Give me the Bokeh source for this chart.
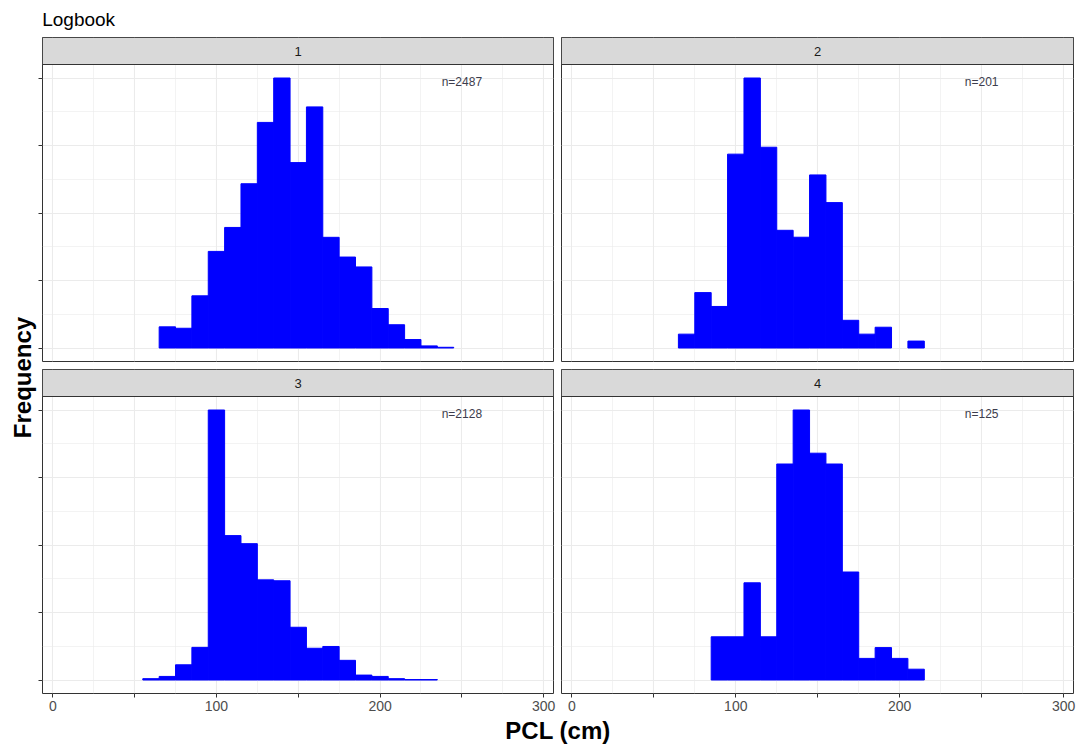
import numpy as np
from bokeh.plotting import figure
from bokeh.layouts import row, column
from bokeh.models import Range1d, FixedTicker, Label
from bokeh.core.properties import value
from bokeh.embed import file_html
from bokeh.resources import INLINE

FONT = "Liberation Sans"

# ---------------- data ----------------
title_text = "Logbook"
x_label = "PCL (cm)"
y_label = "Frequency"
panel_names = ["1", "2", "3", "4"]
n_labels = ["n=2487", "n=201", "n=2128", "n=125"]
bin_width = 10
bin_starts = [65, 65, 55, 85]
counts_1 = [30, 28, 74, 137, 171, 233, 320, 383, 263, 342, 157, 129, 115, 56, 33, 12, 3, 1]
counts_2 = [2, 8, 6, 28, 39, 29, 17, 16, 25, 21, 4, 2, 3, 0, 1]
counts_3 = [3, 8, 34, 73, 604, 323, 305, 224, 222, 118, 71, 75, 44, 11, 8, 3, 1, 1]
counts_4 = [4, 4, 9, 4, 20, 25, 21, 20, 10, 2, 3, 2, 1]
all_counts = [counts_1, counts_2, counts_3, counts_4]
x_ticks = [0, 50, 100, 150, 200, 250, 300]
x_tick_labels = ["0", "", "100", "", "200", "", "300"]
y_ticks = [0, 0.25, 0.5, 0.75, 1.0]

X0, X1 = -6.3, 306.0
Y0, Y1 = -0.05, 1.05
STRIP_TOP = 1.15

GRID = "#EBEBEB"
DARK = "#333333"
LEFT_W = 38


def make_panel(i, left_axis, bottom_axis, mbl, fw, mbr, mbt, mbb):
    p = figure(frame_width=fw, frame_height=324,
               x_range=Range1d(X0, X1), y_range=Range1d(Y0, STRIP_TOP),
               min_border_left=mbl, min_border_right=mbr,
               min_border_top=mbt, min_border_bottom=mbb,
               x_axis_location="below" if bottom_axis else None,
               y_axis_location="left" if left_axis else None,
               toolbar_location=None, output_backend="svg",
               background_fill_color="white", border_fill_color="white",
               outline_line_color=DARK, outline_line_width=1)
    x_minor = [(a + b) / 2 for a, b in zip(x_ticks[:-1], x_ticks[1:])]
    y_minor = [(a + b) / 2 for a, b in zip(y_ticks[:-1], y_ticks[1:])]
    p.xgrid.ticker = FixedTicker(ticks=x_ticks, minor_ticks=x_minor)
    p.ygrid.ticker = FixedTicker(ticks=y_ticks, minor_ticks=y_minor)
    for g in (p.xgrid, p.ygrid):
        g.grid_line_color = GRID
        g.grid_line_width = 1.1
        g.minor_grid_line_color = GRID
        g.minor_grid_line_width = 0.6

    if bottom_axis:
        ax = p.xaxis[0]
        ax.ticker = FixedTicker(ticks=x_ticks)
        ax.major_label_overrides = {t: l for t, l in zip(x_ticks, x_tick_labels)}
        ax.axis_line_color = None
        ax.major_tick_line_color = DARK
        ax.major_tick_out = 4
        ax.major_tick_in = 0
        ax.minor_tick_line_color = None
        ax.major_label_standoff = 3
        ax.major_label_text_font = FONT
        ax.major_label_text_font_size = "14px"
        ax.major_label_text_color = "#4D4D4D"
    if left_axis:
        ay = p.yaxis[0]
        ay.ticker = FixedTicker(ticks=y_ticks)
        ay.major_label_overrides = {t: "" for t in y_ticks}
        ay.axis_line_color = None
        ay.major_tick_line_color = DARK
        ay.major_tick_out = 4
        ay.major_tick_in = 0
        ay.minor_tick_line_color = None
        ay.major_label_standoff = 0
        ay.major_label_text_font_size = "1px"

    counts = np.array(all_counts[i], dtype=float)
    edges = bin_starts[i] + bin_width * np.arange(len(counts) + 1)
    ncount = counts / counts.max()
    keep = counts > 0
    p.quad(left=edges[:-1][keep], right=edges[1:][keep], bottom=0, top=ncount[keep],
           fill_color="#0000FF", line_color="#0000FF", line_width=1)

    p.text(x=[250], y=[0.984], text=[n_labels[i]], text_align="center",
           text_baseline="middle", text_font=value(FONT), text_font_size="12px",
           text_color="#3D3D4D")

    # facet strip
    p.quad(left=[X0], right=[X1], bottom=[Y1], top=[STRIP_TOP],
           fill_color="#D9D9D9", line_color=DARK, line_width=1)
    p.add_layout(Label(x=(X0 + X1) / 2, y=(Y1 + STRIP_TOP) / 2, text=panel_names[i],
                       text_align="center", text_baseline="middle",
                       text_font=FONT, text_font_size="13px", text_color="#1A1A1A"))
    return p


def blank(w, h):
    p = figure(width=w, height=h, x_range=Range1d(0, w), y_range=Range1d(0, h),
               min_border=0, x_axis_location=None, y_axis_location=None,
               toolbar_location=None, output_backend="svg",
               outline_line_color=None, background_fill_color="white",
               border_fill_color="white")
    p.grid.visible = False
    return p


p1 = make_panel(0, True, False, 42 - LEFT_W, 511, 4, 0, 4)
p2 = make_panel(1, False, False, 4, 512, 6, 0, 4)
p3 = make_panel(2, True, True, 42 - LEFT_W, 511, 4, 4, 25)
p4 = make_panel(3, False, True, 4, 512, 6, 4, 25)

yl = blank(LEFT_W, 746)
yl.add_layout(Label(x=22, y=746 - 377, text=y_label, angle=np.pi / 2,
                    text_align="center", text_baseline="middle",
                    text_font=FONT, text_font_size="24px", text_font_style="bold",
                    text_color="black"))

RW = 1079 - LEFT_W
tf = blank(RW, 37)
tf.add_layout(Label(x=41.7 - LEFT_W, y=18, text=title_text, text_align="left",
                    text_baseline="alphabetic", text_font=FONT,
                    text_font_size="19px", text_color="black"))

xl = blank(RW, 28)
xl.add_layout(Label(x=557.5 - LEFT_W, y=16, text=x_label, text_align="center",
                    text_baseline="middle", text_font=FONT, text_font_size="24px",
                    text_font_style="bold", text_color="black"))

layout = row(yl, column(tf, row(p1, p2), row(p3, p4), xl))

open("out.html", "w").write(file_html(layout, INLINE))
